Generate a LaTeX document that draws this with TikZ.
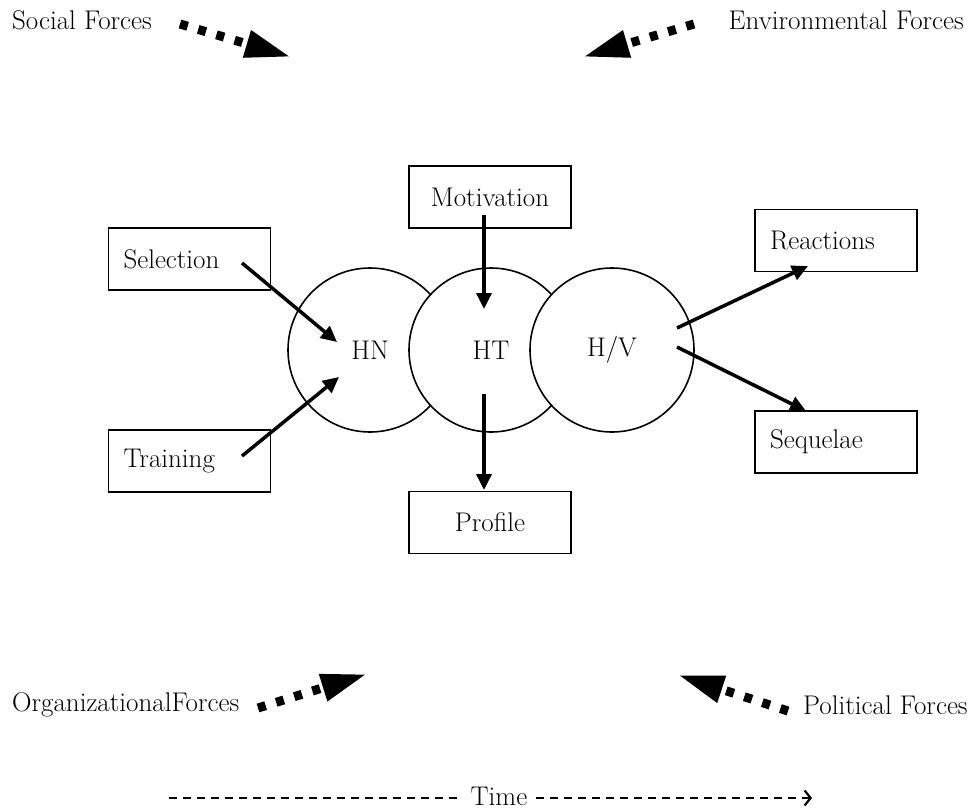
\documentclass[tikz,border=0pt]{standalone}
\usetikzlibrary{arrows.meta}
\begin{document}
\begin{tikzpicture}[x=1pt,y=-1pt,
  every node/.style={font=\fontsize{27}{31}\selectfont},
  box/.style={draw, line width=1.6pt, minimum height=62pt, inner ysep=0pt},
  lbox/.style={box, text width=132pt, inner xsep=15pt, align=left},
  cbox/.style={box, minimum width=162pt, inner xsep=0pt, align=center},
  circ/.style={circle, draw, fill=white, line width=1.6pt, minimum size=164pt, inner sep=0pt},
  arr/.style={line width=3.5pt, -{Triangle[length=16pt,width=15pt]}},
  force/.style={line width=9pt, dash pattern=on 8pt off 11pt, -{Triangle[length=46pt,width=26pt]}},
  timeline/.style={line width=1.8pt, dash pattern=on 8pt off 6pt}]
\useasboundingbox (0,0) rectangle (971,811);

% boxes
\node[lbox] (sel) at (189.5,259) {Selection};
\node[lbox] (tra) at (189.5,461) {Training};
\node[cbox] (mot) at (490,197) {Motivation};
\node[cbox] (pro) at (490,522.5) {Profile};
\node[lbox] (rea) at (836,240.5) {Reactions};
\node[lbox] (seq) at (836,442) {Sequelae};

% circles
\node[circ] (hn) at (370,350) {HN};
\node[circ] (ht) at (491,350) {HT};
\node[circ] (hv) at (612,350) {H/V};

% arrow ends
\coordinate (selA) at (242,263);
\coordinate (hnA) at (337,342);
\coordinate (traA) at (242,456);
\coordinate (hnB) at (339,377);
\coordinate (motA) at (484,215);
\coordinate (htA) at (484,309);
\coordinate (htB) at (484,394);
\coordinate (proA) at (484,490);
\coordinate (hvA) at (677,328);
\coordinate (reaA) at (808,266);
\coordinate (hvB) at (677,347);
\coordinate (seqA) at (806,411);

\draw[arr] (selA) -- (hnA);
\draw[arr] (traA) -- (hnB);
\draw[arr] (motA) -- (htA);
\draw[arr] (htB) -- (proA);
\draw[arr] (hvA) -- (reaA);
\draw[arr] (hvB) -- (seqA);

% forces
\node[anchor=west, inner sep=0pt] (soc) at (12,20) {Social Forces};
\node[anchor=east, inner sep=0pt] (env) at (964,20) {Environmental Forces};
\node[anchor=west, inner sep=0pt] (org) at (12,705) {OrganizationalForces};
\node[anchor=west, inner sep=0pt] (pol) at (803,705) {Political Forces};

\coordinate (socS) at (180,24);
\coordinate (socT) at (291,57);
\coordinate (envS) at (694,24);
\coordinate (envT) at (583,57);
\coordinate (orgS) at (258,708);
\coordinate (orgT) at (367,674);
\coordinate (polS) at (788,711);
\coordinate (polT) at (678,675);

\draw[force] (socS) -- (socT);
\draw[force] (envS) -- (envT);
\draw[force] (orgS) -- (orgT);
\draw[force] (polS) -- (polT);

% time
\node[inner sep=0pt] (time) at (499,796) {Time};
\coordinate (tS) at (169,798);
\coordinate (tE) at (812,798);
\draw[timeline] (tS) -- ([xshift=-8pt]time.west |- tS);
\draw[timeline, -{Straight Barb[length=6pt,width=15pt,line width=2.2pt]}] ([xshift=8pt]time.east |- tS) -- (tE);
\end{tikzpicture}
\end{document}
